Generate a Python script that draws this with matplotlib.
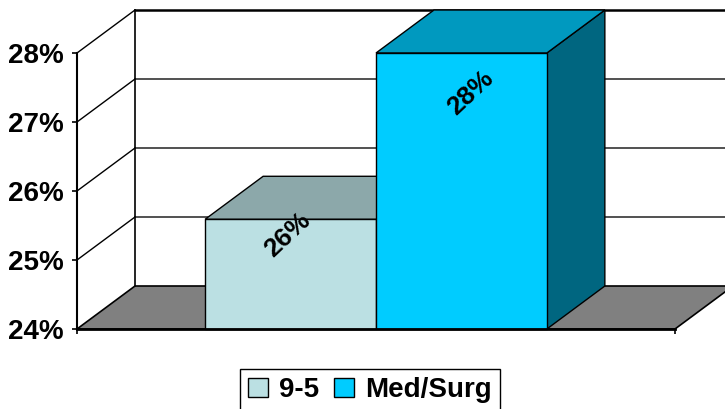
import matplotlib.pyplot as plt
from matplotlib.patches import Polygon, Rectangle, Patch

plt.rcParams['font.family'] = ['Liberation Sans', 'DejaVu Sans']
plt.rcParams['font.weight'] = 'bold'

series = ['9-5', 'Med/Surg']
values = [25.59, 28.0]
yticks = [24, 25, 26, 27, 28]

front_colors = ['#BBE0E3', '#00CCFF']
top_colors = ['#8CA8AA', '#0099BF']
side_colors = ['#6E8688', '#006680']
label_off = [(-3, -16), (9, -40)]  # label offset from the bar top centre, in pixels

W, H = 725, 409
fig = plt.figure(figsize=(W / 100, H / 100), dpi=100)
# axes box = front face of the plot: x 77..675 px, y 53..329 px
ax = fig.add_axes([77 / W, (H - 329) / H, 598 / W, 276 / H])
ax.set_xlim(-0.5, 0.5)
ax.set_ylim(yticks[0], yticks[-1])

# oblique depth offset in data units
DX = 58 / 598
DY = 43 / 69
y0 = yticks[0]
x_left, x_right = -0.5, 0.5

# floor
floor = Polygon([(x_left, y0), (x_right, y0), (x_right + DX, y0 + DY), (x_left + DX, y0 + DY)],
                closed=True, facecolor='#808080', edgecolor='black', lw=1.2,
                clip_on=False, zorder=1)
ax.add_patch(floor)

# back wall and side wall gridlines
for t in yticks[1:]:
    top_line = t == yticks[-1]
    ax.plot([x_left + DX, x_right + DX], [t + DY, t + DY], color='black' if top_line else '#333333',
            lw=1.8 if top_line else 1.2, clip_on=False, zorder=1)
    ax.plot([x_left, x_left + DX], [t, t + DY], color='black', lw=1, clip_on=False, zorder=1)
ax.plot([x_left + DX, x_left + DX], [y0 + DY, yticks[-1] + DY], color='black', lw=1.2,
        clip_on=False, zorder=1)
ax.plot([x_right + DX, x_right + DX], [y0 + DY, yticks[-1] + DY], color='black', lw=1.2,
        clip_on=False, zorder=1)

# 3D columns: one category, two series, gap width 150%
n = len(series)
bar_w = 1.0 / (n + 1.5)
start = -n * bar_w / 2
for i, (v, name) in enumerate(zip(values, series)):
    x0 = start + i * bar_w
    x1 = x0 + bar_w
    side = Polygon([(x1, y0), (x1 + DX, y0 + DY), (x1 + DX, v + DY), (x1, v)], closed=True,
                   facecolor=side_colors[i], edgecolor='black', lw=1, clip_on=False, zorder=2 + i)
    top = Polygon([(x0, v), (x1, v), (x1 + DX, v + DY), (x0 + DX, v + DY)], closed=True,
                  facecolor=top_colors[i], edgecolor='black', lw=1, clip_on=False, zorder=2 + i)
    front = Rectangle((x0, y0), bar_w, v - y0, facecolor=front_colors[i], edgecolor='black',
                      lw=1, clip_on=False, zorder=2 + i)
    ax.add_patch(side)
    ax.add_patch(top)
    ax.add_patch(front)
    dx, dy = label_off[i]
    ax.annotate(f'{v:.0f}%', xy=((x0 + x1) / 2, v), xytext=(dx * 0.72, dy * 0.72),
                textcoords='offset points', ha='center', va='center', rotation=43,
                fontsize=19, fontweight='bold', zorder=5)

# axes styling
for s in ['top', 'right']:
    ax.spines[s].set_visible(False)
ax.spines['left'].set_linewidth(1.5)
ax.spines['bottom'].set_linewidth(2)
ax.spines['left'].set_zorder(6)
ax.spines['bottom'].set_zorder(6)
ax.set_yticks(yticks)
ax.set_yticklabels([f'{t}%' for t in yticks], fontsize=20, fontweight='bold')
ax.set_xticks([x_left, x_right])
ax.set_xticklabels([])
ax.tick_params(axis='both', direction='out', length=3.5, width=1.2, pad=6)
ax.patch.set_alpha(0)

handles = [Patch(facecolor=c, edgecolor='black', lw=1) for c in front_colors]
leg = fig.legend(handles, series, loc='upper center', bbox_to_anchor=(370 / W, 40 / H),
                 ncol=2, frameon=True, fancybox=False, edgecolor='black', framealpha=1,
                 prop={'size': 20, 'weight': 'bold'}, handlelength=0.7, handleheight=0.7,
                 handletextpad=0.4, columnspacing=0.55, borderpad=0.3, borderaxespad=0)
leg.get_frame().set_linewidth(1)

fig.savefig('out.png', dpi=100)
